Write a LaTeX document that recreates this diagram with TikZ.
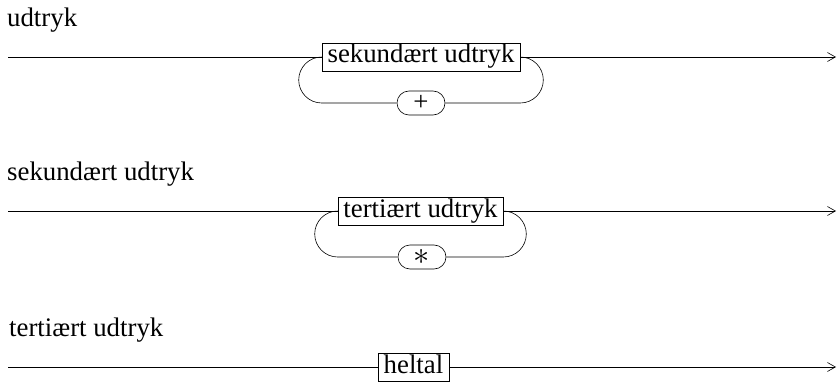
\documentclass[tikz,border=0pt]{standalone}
\usepackage{fontspec}
\setmainfont{Liberation Serif}
\usetikzlibrary{arrows.meta}
\tikzset{
  conn/.style={draw=black, line width=0.6pt},
  termbox/.style={draw=black, line width=0.6pt, inner xsep=0pt, inner ysep=0pt,
    minimum height=28pt, text height=18pt, text depth=6pt},
  litbox/.style={draw=black, line width=0.6pt, rounded corners=12pt, inner sep=0pt,
    minimum width=48pt, minimum height=24pt},
  title/.style={anchor=base west, inner sep=0pt},
  tip/.style={-{Straight Barb[length=8pt,width=9pt]}}
}
\begin{document}
\begin{tikzpicture}[x=1pt,y=-1pt,font=\fontsize{26.8}{30}\selectfont]
\useasboundingbox (0,0) rectangle (840,382);
% diagram 1
\node[title] (t1) at (7,27) {udtryk};
\coordinate (s1) at (8,57);
\coordinate (e1) at (836,57);
\node[termbox, minimum width=198pt] (b1) at (421,57) {sekundært udtryk};
\node[litbox] (p1) at (421,103) {+};
\draw[conn] (s1) -- (b1.west);
\draw[conn, tip] (b1.east) -- (e1);
\draw[conn] (b1.west) arc[start angle=-90, end angle=-270, radius=23] -- (p1.west);
\draw[conn] (p1.east) -- (p1.east -| b1.east) arc[start angle=90, end angle=-90, radius=23];
% diagram 2
\node[title] (t2) at (7,181) {sekundært udtryk};
\coordinate (s2) at (8,211);
\coordinate (e2) at (836,211);
\node[termbox, minimum width=165pt] (b2) at (420.5,211) {tertiært udtryk};
\node[litbox] (p2) at (422,257) {\scalebox{1.3}{$\ast$}};
\draw[conn] (s2) -- (b2.west);
\draw[conn, tip] (b2.east) -- (e2);
\draw[conn] (b2.west) arc[start angle=-90, end angle=-270, radius=23] -- (p2.west);
\draw[conn] (p2.east) -- (p2.east -| b2.east) arc[start angle=90, end angle=-90, radius=23];
% diagram 3
\node[title] (t3) at (9,336) {tertiært udtryk};
\coordinate (s3) at (8,367);
\coordinate (e3) at (836,367);
\node[termbox, minimum width=71pt] (b3) at (413.5,367) {heltal};
\draw[conn] (s3) -- (b3.west);
\draw[conn, tip] (b3.east) -- (e3);
\end{tikzpicture}
\end{document}
